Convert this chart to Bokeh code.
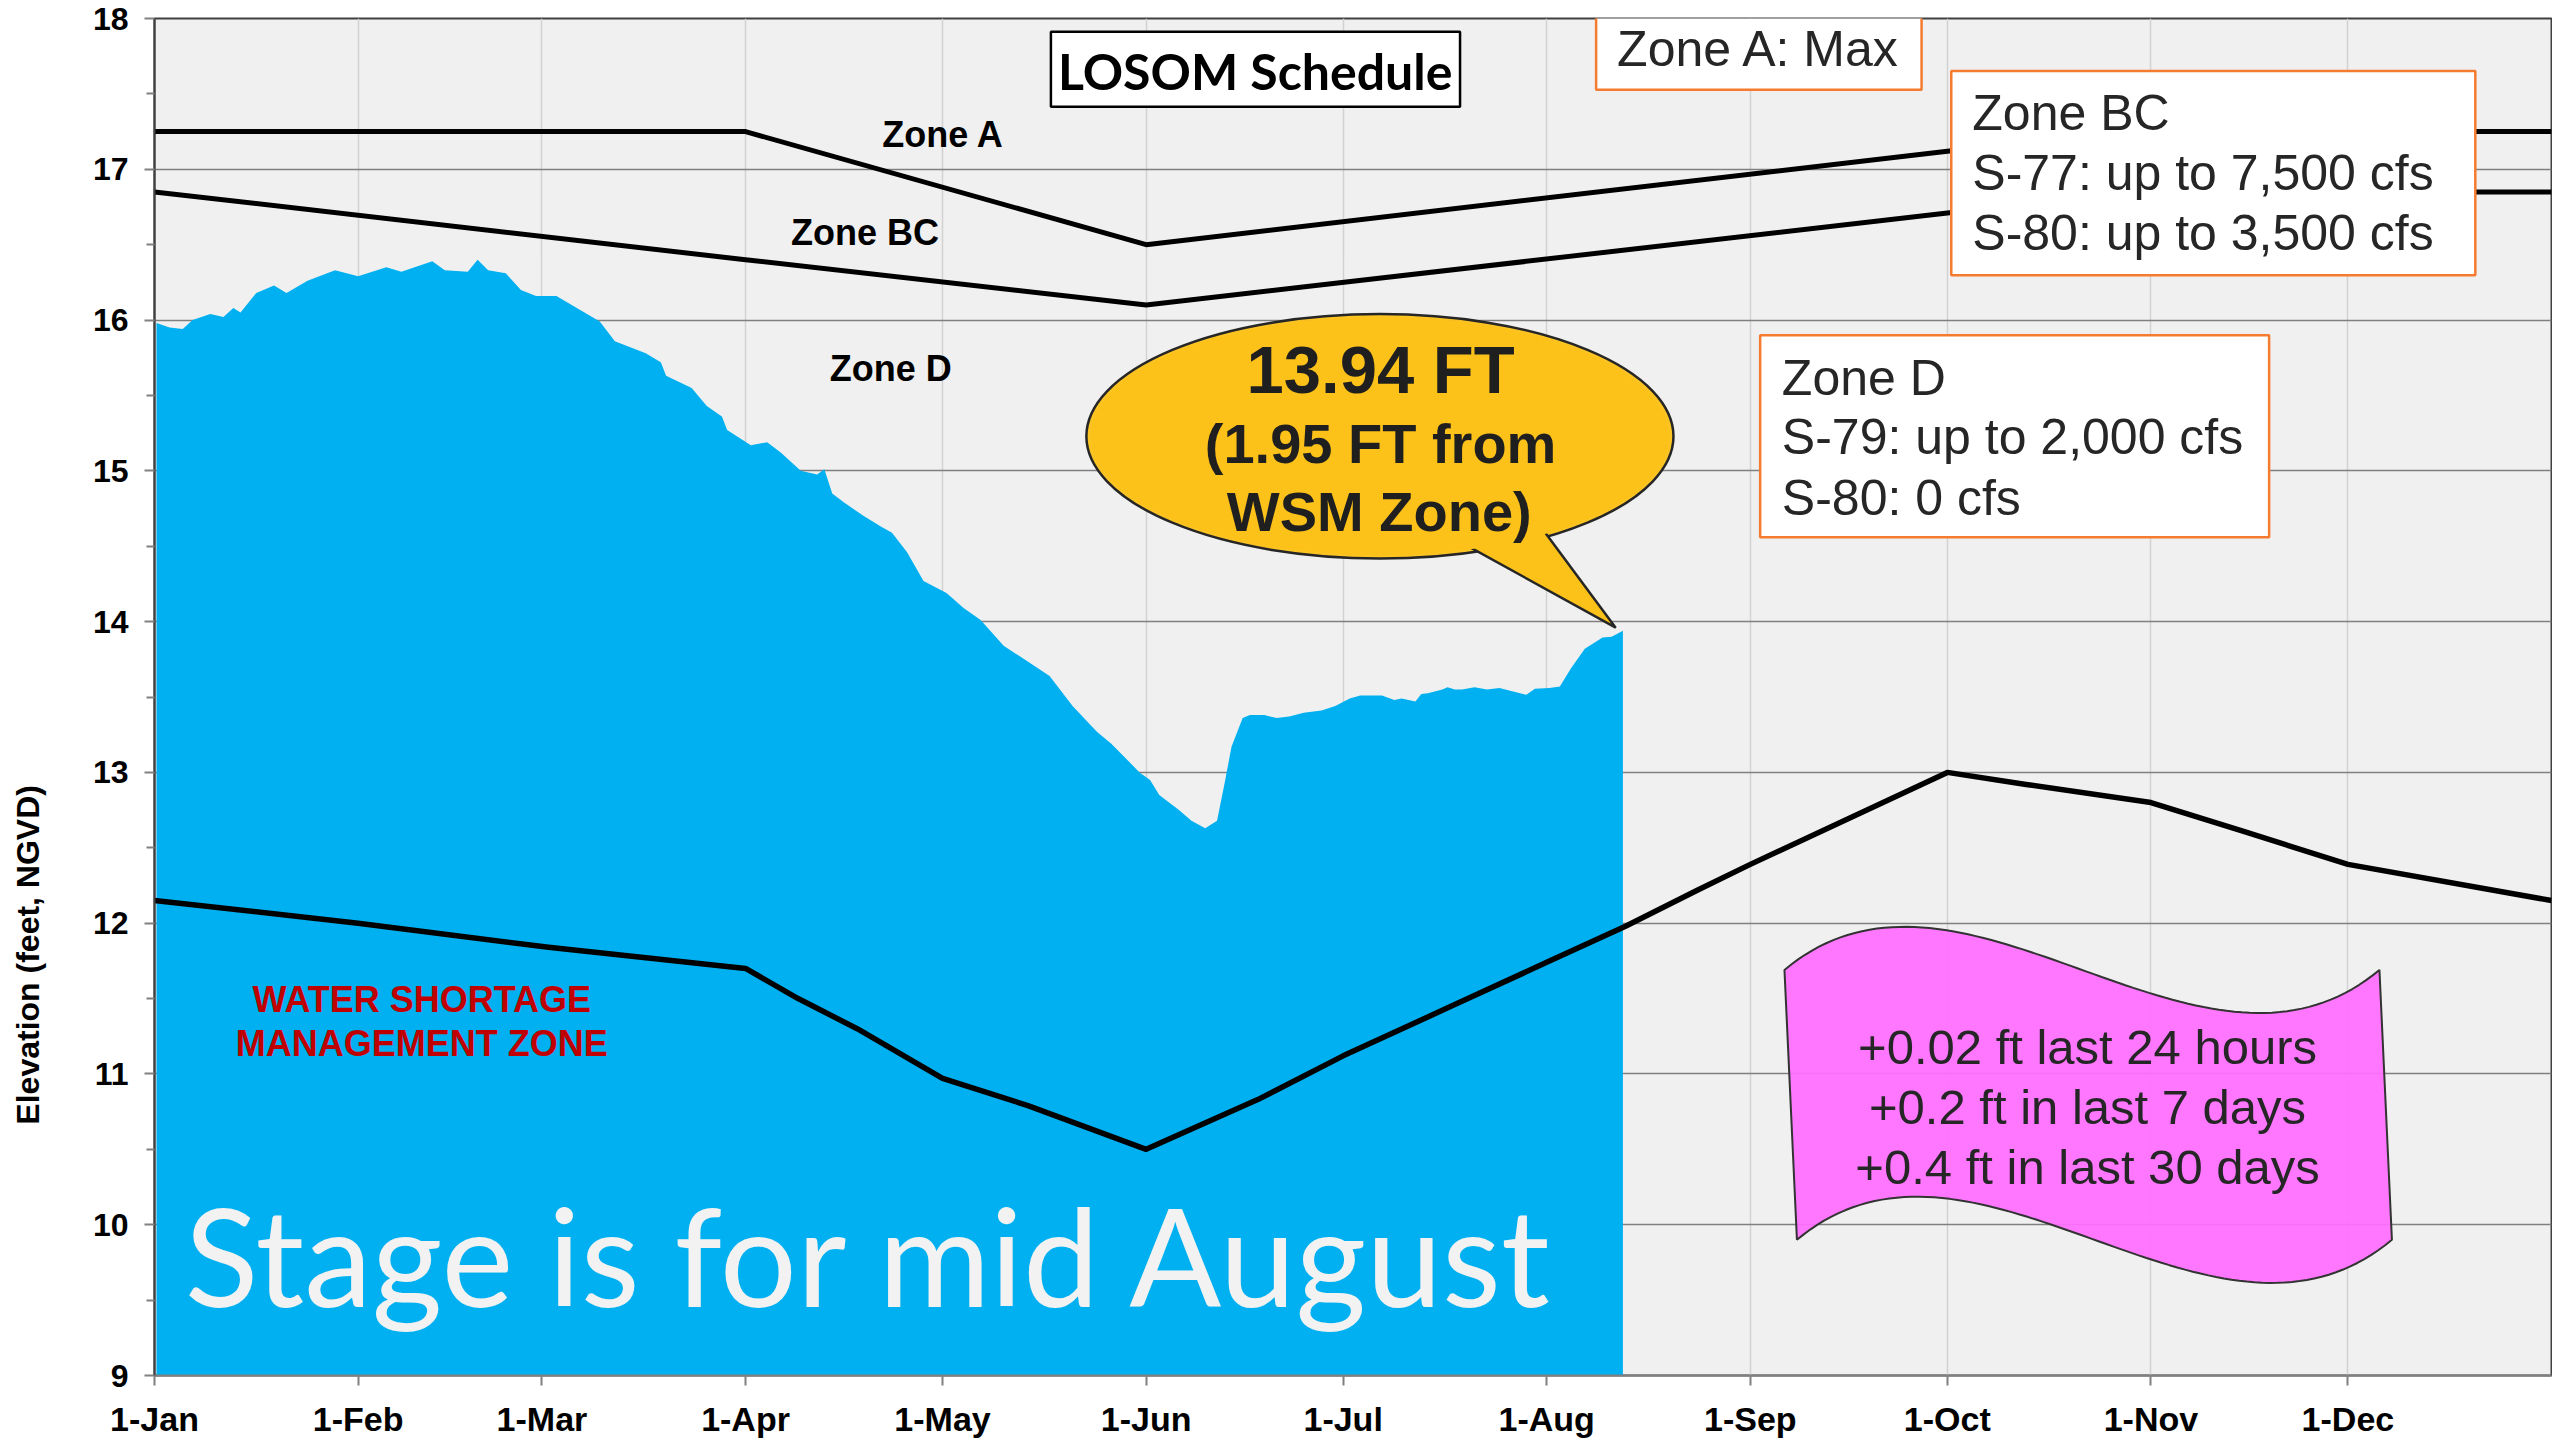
import numpy as np
from bokeh.plotting import figure
from bokeh.models import Range1d, FixedTicker, Label
from bokeh.core.properties import value
from bokeh.embed import file_html
from bokeh.resources import INLINE

# ---------------- data ----------------
month_ticks = [0, 31, 59, 90, 120, 151, 181, 212, 243, 273, 304, 334]
month_labels = ["1-Jan", "1-Feb", "1-Mar", "1-Apr", "1-May", "1-Jun",
                "1-Jul", "1-Aug", "1-Sep", "1-Oct", "1-Nov", "1-Dec"]

# Lake stage (day of year, feet NGVD)
stage_day = [0.3, 2.3, 4.3, 5.8, 8.5, 10.5, 12.0, 13.1, 15.5, 18.2, 20.1, 23.3,
             27.5, 31.0, 35.3, 37.6, 42.3, 44.2, 47.7, 49.2, 50.8, 53.5, 55.8,
             58.1, 61.2, 64.7, 67.8, 70.1, 74.8, 77.1, 77.9, 81.8, 84.1, 86.4,
             87.2, 90.8, 93.3, 95.4, 98.4, 100.9, 102.0, 103.2, 105.0, 108.0,
             110.6, 112.3, 114.6, 117.1, 120.6, 123.2, 125.8, 129.3, 132.8,
             136.3, 139.8, 143.5, 145.7, 150.0, 151.6, 153.0, 156.0, 157.9,
             160.0, 161.8, 163.0, 164.0, 165.7, 166.8, 169.0, 170.9, 172.8,
             175.0, 177.7, 179.8, 182.0, 183.6, 186.9, 188.8, 189.9, 192.0,
             192.9, 193.9, 196.1, 196.9, 198.0, 199.1, 201.0, 202.9, 204.8,
             208.9, 210.2, 212.4, 214.0, 215.7, 217.8, 220.5, 221.9, 223.6]
stage_ft = [15.98, 15.95, 15.94, 16.00, 16.04, 16.02, 16.08, 16.05, 16.18, 16.23,
            16.18, 16.26, 16.33, 16.29, 16.35, 16.32, 16.39, 16.33, 16.32, 16.40,
            16.33, 16.31, 16.20, 16.16, 16.16, 16.07, 15.99, 15.86, 15.78, 15.72,
            15.63, 15.55, 15.43, 15.36, 15.27, 15.17, 15.19, 15.12, 15.00, 14.975,
            15.01, 14.85, 14.79, 14.70, 14.63, 14.59, 14.46, 14.27, 14.19, 14.09,
            14.01, 13.84, 13.74, 13.64, 13.44, 13.27, 13.19, 13.00, 12.95, 12.85,
            12.75, 12.68, 12.63, 12.68, 12.94, 13.17, 13.36, 13.38, 13.38, 13.36,
            13.37, 13.395, 13.41, 13.44, 13.49, 13.51, 13.51, 13.48, 13.49, 13.47,
            13.52, 13.525, 13.55, 13.565, 13.55, 13.55, 13.565, 13.55, 13.56,
            13.515, 13.555, 13.56, 13.57, 13.69, 13.82, 13.895, 13.90, 13.94]

# LOSOM schedule zone lines
zone_a_day = [0, 90, 151, 273, 300, 365]
zone_a_ft = [17.25, 17.25, 16.50, 17.12, 17.25, 17.25]

zone_bc_day = [0, 90, 151, 273, 303, 365]
zone_bc_ft = [16.85, 16.40, 16.10, 16.71, 16.85, 16.85]

wsm_day = [0, 31, 60, 90, 98, 107, 120, 133, 151, 168, 181, 198, 212, 224,
           235, 243, 273, 285, 304, 318, 334, 365]
wsm_ft = [12.15, 12.00, 11.84, 11.70, 11.50, 11.30, 10.97, 10.79, 10.50, 10.83,
          11.12, 11.46, 11.74, 11.98, 12.22, 12.39, 13.00, 12.92, 12.80, 12.61,
          12.39, 12.15]

current_stage = "13.94 FT"
from_wsm = "(1.95 FT from"
flag_lines = ["+0.02 ft last 24 hours", "+0.2 ft in last 7 days", "+0.4 ft in last 30 days"]

# ---------------- figure ----------------
p = figure(width=2552, height=1440, output_backend="svg", toolbar_location=None,
           x_range=Range1d(0, 365), y_range=Range1d(9, 18),
           min_border_left=154, min_border_right=1, min_border_top=18,
           min_border_bottom=64)

p.background_fill_color = "#F0F0F0"
p.border_fill_color = "white"
p.outline_line_color = "#404040"
p.outline_line_width = 2

# axes
p.xaxis.ticker = FixedTicker(ticks=month_ticks)
p.xaxis.major_label_overrides = {t: l for t, l in zip(month_ticks, month_labels)}
p.xaxis.minor_tick_line_color = None
p.xaxis.major_tick_in = 0
p.xaxis.major_tick_out = 10
p.xaxis.major_tick_line_color = "#808080"
p.xaxis.major_tick_line_width = 2
p.xaxis.axis_line_color = "#808080"
p.xaxis.axis_line_width = 2
p.xaxis.major_label_standoff = 14
p.xaxis.major_label_text_font = "Liberation Sans"
p.xaxis.major_label_text_font_style = "bold"
p.xaxis.major_label_text_font_size = "34px"
p.xaxis.major_label_text_color = "black"

p.yaxis.ticker = FixedTicker(ticks=list(range(9, 19)),
                             minor_ticks=[9.5 + i for i in range(9)])
p.yaxis.major_tick_in = 0
p.yaxis.major_tick_out = 10
p.yaxis.minor_tick_in = 0
p.yaxis.minor_tick_out = 8
p.yaxis.major_tick_line_color = "#808080"
p.yaxis.minor_tick_line_color = "#808080"
p.yaxis.major_tick_line_width = 2
p.yaxis.minor_tick_line_width = 2
p.yaxis.axis_line_color = "#404040"
p.yaxis.axis_line_width = 2
p.yaxis.major_label_standoff = 16
p.yaxis.major_label_text_font = "Liberation Sans"
p.yaxis.major_label_text_font_style = "bold"
p.yaxis.major_label_text_font_size = "32px"
p.yaxis.major_label_text_color = "black"

# axis title: trailing no-break spaces push the visible words below centre
p.yaxis.axis_label = "Elevation (feet, NGVD)" + "\u00a0" * 58
p.yaxis.axis_label_text_font = "Liberation Sans"
p.yaxis.axis_label_text_font_style = "bold"
p.yaxis.axis_label_text_font_size = "32px"
p.yaxis.axis_label_text_color = "black"
p.yaxis.axis_label_standoff = 44

p.xgrid.grid_line_color = "#D2D2D2"
p.xgrid.grid_line_width = 1.5
p.ygrid.grid_line_color = "#808080"
p.ygrid.grid_line_width = 1.5

# ---------------- data marks ----------------
p.varea(x=stage_day, y1=[9] * len(stage_day), y2=stage_ft, fill_color="#00B0F0")

p.line(wsm_day, wsm_ft, line_color="black", line_width=5.5, line_join="round")
for xs, ys in [(zone_a_day, zone_a_ft), (zone_bc_day, zone_bc_ft)]:
    p.line(xs, ys, line_color="black", line_width=5, line_join="round")

# ---------------- annotations ----------------
ARIAL = value("Liberation Sans")

# zone names
p.text(x=[120.1, 108.2, 112.1], y=[17.228, 16.581, 15.68],
       text=["Zone A", "Zone BC", "Zone D"], text_font=ARIAL, text_font_style="bold",
       text_font_size="36px", text_align="center", text_baseline="middle",
       text_color="black")

# water shortage label
p.text(x=[40.7, 40.7], y=[11.491, 11.202],
       text=["WATER SHORTAGE", "MANAGEMENT ZONE"], text_font=ARIAL,
       text_font_style="bold", text_font_size="36px", text_align="center",
       text_baseline="middle", text_color="#C00000")

# Stage text
p.text(x=[4.6], y=[9.805], text=["Stage is for mid August"], text_font=value("Lato"),
       text_font_size="136px", text_align="left", text_baseline="middle",
       text_color="#F2F2F2")

# LOSOM Schedule box
p.quad(left=[136.5], right=[198.8], bottom=[17.414], top=[17.912],
       fill_color="white", line_color="black", line_width=2.5)
p.text(x=[167.6], y=[17.652], text=["LOSOM Schedule"], text_font=value("Lato"),
       text_font_style="bold", text_font_size="50px", text_align="center",
       text_baseline="middle", text_color="black")

ORANGE = "#F47B2F"
# Zone BC box
p.quad(left=[273.6], right=[353.4], bottom=[16.297], top=[17.652],
       fill_color="white", line_color=ORANGE, line_width=2.5)
p.text(x=[276.8] * 3, y=[17.372, 16.976, 16.579],
       text=["Zone BC", "S-77: up to 7,500 cfs", "S-80: up to 3,500 cfs"],
       text_font=ARIAL, text_font_size="50px", text_align="left",
       text_baseline="middle", text_color="#262626")

# Zone D box
p.quad(left=[244.5], right=[322.0], bottom=[14.56], top=[15.90],
       fill_color="white", line_color=ORANGE, line_width=2.5)
p.text(x=[247.8] * 3, y=[15.614, 15.224, 14.821],
       text=["Zone D", "S-79: up to 2,000 cfs", "S-80: 0 cfs"],
       text_font=ARIAL, text_font_size="50px", text_align="left",
       text_baseline="middle", text_color="#262626")

# Zone A box (extends above the frame)
za = Label(x=244.3, y=17.80, text="Zone A: Max", text_font="Liberation Sans",
           text_font_size="50px", text_align="center", text_baseline="middle",
           text_color="#262626", background_fill_color="white",
           border_line_color=ORANGE, border_line_width=2.5)
try:
    za.padding = dict(left=21, right=21, top=13, bottom=13)
except Exception:
    za.padding = 16
p.add_layout(za)

# callout balloon
GOLD = "#FCC21A"
bx, by, bw, bh = 186.6, 15.229, 89.4, 1.621
p.ellipse(x=[bx], y=[by], width=[bw], height=[bh], fill_color=GOLD,
          fill_alpha=0.96, line_color="#262626", line_width=2.5)
p.patch(x=[197.1, 222.5, 210.0], y=[14.57, 13.96, 14.694], fill_color=GOLD,
        fill_alpha=1.0, line_color="#262626", line_width=2.5)
p.ellipse(x=[bx], y=[by], width=[bw * 0.985], height=[bh * 0.975], fill_color=GOLD,
          fill_alpha=1.0, line_color=None)
p.text(x=[186.7], y=[15.669], text=[current_stage], text_font=ARIAL,
       text_font_style="bold", text_font_size="67px", text_align="center",
       text_baseline="middle", text_color="#1F1F1F")
p.text(x=[186.7, 186.5], y=[15.179, 14.728], text=[from_wsm, "WSM Zone)"],
       text_font=ARIAL, text_font_style="bold", text_font_size="56px",
       text_align="center", text_baseline="middle", text_color="#1F1F1F")

# wavy flag
def wave(t, x0, x1, y0, amp):
    bxx = 3 * (1 - t) ** 2 * t * 0.3 + 3 * (1 - t) * t ** 2 * 0.7 + t ** 3
    byy = 3 * (1 - t) ** 2 * t - 3 * (1 - t) * t ** 2
    return x0 + (x1 - x0) * bxx, y0 + amp * byy

t = np.linspace(0, 1, 80)
tx, ty = wave(t, 248.2, 338.8, 11.69, 0.99)
bxs, bys = wave(t[::-1], 250.1, 340.7, 9.90, 0.99)
p.patch(x=list(tx) + list(bxs), y=list(ty) + list(bys), fill_color="#FF6EFF",
        fill_alpha=0.93, line_color="#333333", line_width=2)
p.text(x=[294.35] * 3, y=[11.181, 10.779, 10.386], text=flag_lines,
       text_font=ARIAL, text_font_size="49px", text_align="center",
       text_baseline="middle", text_color="#262626")

open("out.html", "w").write(file_html(p, INLINE))
